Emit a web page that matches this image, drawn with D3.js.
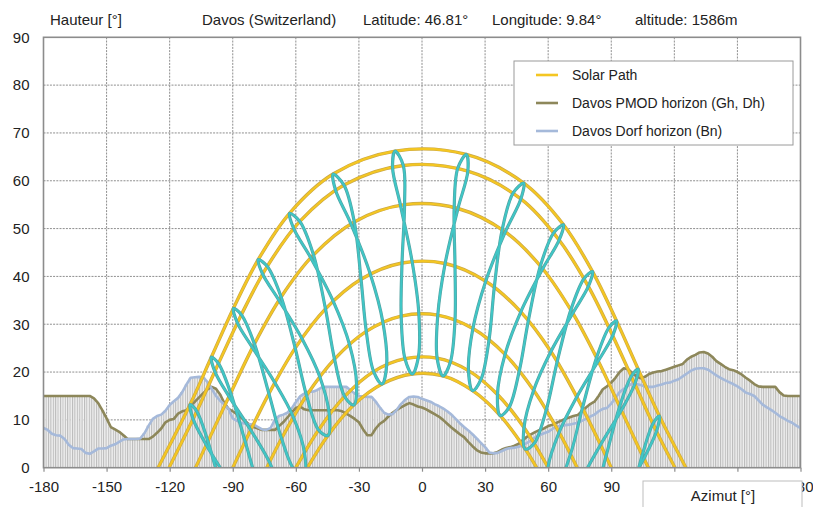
<!DOCTYPE html>
<html>
<head>
<meta charset="utf-8">
<script src="https://cdn.jsdelivr.net/npm/d3@7"></script>
<style>
  body { margin: 0; background: #fff; }
  svg text { font-family: "Liberation Sans", Arial, sans-serif; fill: #222; }
</style>
</head>
<body>
<svg id="chart" width="813" height="507"></svg>
<script>
// ---- Axis ticks -------------------------------------------------------------
const azimuthTicks = [-180, -150, -120, -90, -60, -30, 0, 30, 60, 90, 120, 150, 180];
// labels sitting under the "Azimut" title box are left blank
const azimuthLabels = ["-180", "-150", "-120", "-90", "-60", "-30", "0", "30", "60", "90", "", "", "180"];
const heightTicks = [0, 10, 20, 30, 40, 50, 60, 70, 80, 90];

// ---- Sun position on the 21st of each month: [azimuth °, height °] -----------
// azimuth 0 = south, negative = east; one point per hour 06:00 ... 19:00 (CET)
const hourLabels = ["06:00","07:00","08:00","09:00","10:00","11:00","12:00",
                    "13:00","14:00","15:00","16:00","17:00","18:00","19:00"];
const jan21 = [[-81.5,-19.8],[-71.2,-9.8],[-60.6,-0.5],[-49.2,7.9],[-36.8,14.9],[-23.0,20.1],[-8.1,22.8],
               [7.2,22.9],[22.1,20.3],[35.9,15.3],[48.5,8.4],[59.9,0.1],[70.5,-9.2],[80.9,-19.2]];
const feb21 = [[-88.6,-13.8],[-77.8,-3.7],[-66.8,6.1],[-54.9,15.1],[-41.6,22.7],[-26.5,28.5],[-9.9,31.7],
               [7.5,31.9],[24.2,29.1],[39.5,23.7],[53.1,16.2],[65.2,7.4],[76.3,-2.2],[87.0,-12.4]];
const mar21 = [[-95.1,-4.8],[-84.1,5.5],[-72.8,15.5],[-60.3,25.0],[-45.9,33.2],[-29.0,39.4],[-9.5,42.8],
               [11.0,42.7],[30.3,39.0],[47.0,32.6],[61.3,24.3],[73.6,14.8],[84.9,4.8],[95.9,-5.5]];
const apr21 = [[-101.8,5.5],[-91.0,15.6],[-79.7,25.9],[-67.0,35.7],[-51.6,44.5],[-32.2,51.4],[-8.3,55.0],
               [17.1,54.2],[39.6,49.3],[57.4,41.6],[71.7,32.3],[83.8,22.3],[94.8,12.0],[105.5,1.9]];
const may21 = [[-107.1,11.8],[-96.8,21.8],[-85.9,32.0],[-73.6,42.1],[-58.1,51.5],[-37.1,59.1],[-8.9,63.2],
               [21.8,62.0],[47.0,56.2],[65.2,47.6],[79.1,37.9],[90.7,27.6],[101.2,17.5],[111.5,7.6]];
const jun21 = [[-110.3,13.2],[-100.2,23.1],[-89.7,33.3],[-77.9,43.5],[-63.0,53.2],[-42.3,61.4],[-12.8,66.2],
               [21.1,65.5],[48.4,59.5],[67.3,50.8],[81.1,41.0],[92.5,30.7],[102.8,20.6],[112.9,10.8]];
const jul21 = [[-108.8,10.1],[-98.5,20.1],[-87.8,30.3],[-75.8,40.5],[-61.0,50.0],[-41.1,58.0],[-14.0,62.8],
               [17.0,62.6],[43.3,57.4],[62.6,49.1],[77.0,39.5],[88.9,29.3],[99.5,19.1],[109.8,9.2]];
const aug21 = [[-102.5,4.7],[-91.8,14.9],[-80.6,25.1],[-68.0,35.0],[-52.9,43.9],[-33.8,51.0],[-10.2,54.8],
               [15.3,54.4],[38.1,49.7],[56.3,42.2],[70.8,33.0],[83.0,23.0],[94.0,12.8],[104.8,2.7]];
const sep21 = [[-92.5,-2.4],[-81.5,7.9],[-70.0,17.8],[-57.1,27.0],[-42.2,34.8],[-24.6,40.5],[-4.7,43.1],
               [15.7,42.1],[34.4,37.8],[50.6,30.8],[64.3,22.2],[76.3,12.5],[87.5,2.4],[98.5,-7.9]];
const oct21 = [[-83.4,-8.9],[-72.5,1.1],[-61.2,10.6],[-48.6,19.0],[-34.5,25.8],[-18.6,30.4],[-1.5,32.2],
               [15.7,30.9],[31.9,26.8],[46.3,20.3],[59.1,12.1],[70.6,2.8],[81.5,-7.1],[92.3,-17.3]];
const nov21 = [[-77.2,-15.5],[-66.8,-5.8],[-55.9,3.2],[-44.1,11.1],[-31.1,17.4],[-16.8,21.5],[-1.7,23.2],
               [13.5,22.1],[28.1,18.5],[41.4,12.6],[53.4,5.1],[64.4,-3.7],[74.9,-13.3],[85.2,-23.4]];
const dec21 = [[-76.6,-20.0],[-66.6,-10.3],[-56.1,-1.3],[-44.8,6.7],[-32.5,13.1],[-19.0,17.5],[-4.6,19.6],
               [10.0,19.2],[24.1,16.1],[37.2,10.9],[49.1,3.9],[60.0,-4.5],[70.3,-13.8],[80.4,-23.7]];
const monthDays = [jan21, feb21, mar21, apr21, may21, jun21, jul21, aug21, sep21, oct21, nov21, dec21];

// Daily solar paths (one per declination) and their sunset azimuths
const pathDays = [jun21, may21, apr21, mar21, feb21, jan21, dec21];
const pathSetAzimuth = [125.5, 120.3, 107.7, 90.0, 73.8, 60.0, 54.5];

// ---- Horizon profiles (height ° every 2° of azimuth) --------------------------
const horizonAzimuths = [
  -180,-178,-176,-174,-172,-170,-168,-166,-164,-162,-160,-158,-156,-154,-152,-150,-148,-146,-144,-142,
  -140,-138,-136,-134,-132,-130,-128,-126,-124,-122,-120,-118,-116,-114,-112,-110,-108,-106,-104,-102,
  -100,-98,-96,-94,-92,-90,-88,-86,-84,-82,-80,-78,-76,-74,-72,-70,-68,-66,-64,-62,
  -60,-58,-56,-54,-52,-50,-48,-46,-44,-42,-40,-38,-36,-34,-32,-30,-28,-26,-24,-22,
  -20,-18,-16,-14,-12,-10,-8,-6,-4,-2,0,2,4,6,8,10,12,14,16,18,
  20,22,24,26,28,30,32,34,36,38,40,42,44,46,48,50,52,54,56,58,
  60,62,64,66,68,70,72,74,76,78,80,82,84,86,88,90,92,94,96,98,
  100,102,104,106,108,110,112,114,116,118,120,122,124,126,128,130,132,134,136,138,
  140,142,144,146,148,150,152,154,156,158,160,162,164,166,168,170,172,174,176,178,180];
const pmodHorizon = [
  15,15,15,15,15,15,15,15,15,15,
  15,15,14.5,13.5,12,10.3,8.5,8,7.5,6.8,
  6,6,6,6,6,6,6.5,7.3,8.2,9.5,
  10,10.2,11.3,11.8,12,13,13.8,14.7,15.6,16.4,
  16.9,16.5,15.3,13.5,12.3,11.8,11.2,10.5,9.7,9,
  8.5,8.2,7.9,7.9,7.9,7.9,8.7,9.5,10.5,11.5,
  12.5,12.8,12.2,12,12,12,12,12,12,12,
  12,11.8,11.3,10.8,10.2,9.5,8,6.8,6.8,8.2,
  9.2,9.8,10.7,11.5,12.1,12.6,13.1,13.5,13.2,12.8,
  12.6,12.2,11.7,11.2,10.7,10,9.2,8.4,7.7,7,
  6.4,5.4,4.5,3.7,3.2,3,3,3,3.3,3.8,
  4.1,4.3,4.6,5,5.8,6.5,7,7.5,7.9,8.2,
  8.7,9,9.4,9.8,10.2,10.5,10.8,11,11.8,12.6,
  13.3,13.8,15,16.4,17,17.8,18.8,20,20.8,20.6,
  19.8,19.1,18.7,19,19.6,19.9,20.1,20.2,20.5,20.8,
  21.1,21.4,21.7,22.6,23.2,23.6,24.1,24.2,23.9,23.2,
  22.3,21.7,21.1,20.6,20.4,20,19.5,18.8,18.2,17.5,
  17,16.9,16.9,16.9,16.9,15.8,15.1,15,15,15,
  15];
const dorfHorizon = [
  8.3,7.9,7.1,6.8,6.7,6,4.8,4.1,4,3.9,
  3.1,2.9,3.4,4,4,4.1,4.6,4.9,5.4,5.9,
  6,6,6,6.1,7.2,8.8,10.2,10.8,11.1,11.9,
  13.1,13.9,14.6,15.8,17.4,18.8,18.9,19,18.9,17.9,
  16.5,15,14,13.2,12.3,10.3,9.8,9.4,9.2,9.1,
  9,8.5,8,7.9,8.3,10,10.8,11.1,11.5,12.4,
  13.7,14.9,15.5,15.9,15.9,16.2,16.7,16.9,16.9,16.9,
  16.9,16.9,16.9,16.2,15.5,15,14.9,14.8,14.8,13.8,
  12.6,11.5,11.1,11.2,12.1,13.3,14.2,14.8,14.9,14.8,
  14.4,14.1,13.8,13.3,12.9,12.4,11.8,11.1,10.2,9.3,
  8.5,7.8,7,6.1,5.2,4.3,3.2,3,3.1,3.5,
  3.9,4.1,4.2,4.4,4.7,5.2,5.8,6.4,6.8,7.2,
  7.5,8.1,8.6,8.7,8.9,9,9.2,9.4,9.8,10.2,
  10.7,11.1,11.8,12.3,12.5,13.4,14.6,15.8,16.5,17.1,
  17.6,17.5,17.3,17,16.9,16.9,17.2,17.4,17.7,17.8,
  18.2,18.5,19.1,19.7,20.3,20.7,20.8,20.8,20.5,19.9,
  19.3,18.8,18.3,17.9,17.5,17,16.4,15.7,15.4,15,
  14.1,13.2,12.6,12.1,11.5,10.8,10.3,9.8,9.4,8.8,
  8.3];

const legendLabels = ["Solar Path", "Davos PMOD horizon (Gh, Dh)", "Davos Dorf horizon (Bn)"];
const headerTexts = ["Davos (Switzerland)", "Latitude: 46.81°", "Longitude: 9.84°", "altitude: 1586m"];

// ---- Colours -----------------------------------------------------------------
const solarColor = "#f4c622", solarEdge = "#c9a84a";
const analemmaColor = "#40c6c6", analemmaEdge = "#55a2a2";
const pmodColor = "#8d875a", dorfColor = "#a5b9da";

// ---- Layout ------------------------------------------------------------------
const svg = d3.select("#chart");
const plot = { left: 43.5, right: 800.5, top: 37.3, bottom: 467.7 };
const x = d3.scaleLinear().domain([-180, 180]).range([plot.left, plot.right]);
const y = d3.scaleLinear().domain([0, 90]).range([plot.bottom, plot.top]);

const defs = svg.append("defs");
defs.append("clipPath").attr("id", "plotClip")
  .append("rect")
  .attr("x", plot.left).attr("y", plot.top)
  .attr("width", plot.right - plot.left).attr("height", plot.bottom - plot.top);

// vertical hatching used to fill the horizon bars
const hatch = defs.append("pattern").attr("id", "hatch")
  .attr("patternUnits", "userSpaceOnUse").attr("width", 2.4).attr("height", 8);
hatch.append("rect").attr("width", 2.4).attr("height", 8).attr("fill", "#efefef");
hatch.append("rect").attr("width", 1).attr("height", 8).attr("fill", "#b8b8b8");

// ---- Grid --------------------------------------------------------------------
const grid = svg.append("g").attr("stroke", "#8e8e8e").attr("stroke-width", 1)
  .attr("stroke-dasharray", "2,1.2");
grid.selectAll("line.v").data(azimuthTicks.slice(1, -1)).join("line").attr("class", "v")
  .attr("x1", d => x(d)).attr("x2", d => x(d))
  .attr("y1", plot.top).attr("y2", plot.bottom);
grid.selectAll("line.h").data(heightTicks.slice(1, -1)).join("line").attr("class", "h")
  .attr("x1", plot.left).attr("x2", plot.right)
  .attr("y1", d => y(d)).attr("y2", d => y(d));

const inner = svg.append("g").attr("clip-path", "url(#plotClip)");

// ---- Horizon bars (hatched) ----------------------------------------------------
[pmodHorizon, dorfHorizon].forEach(series => {
  inner.append("g").selectAll("rect")
    .data(series.map((v, i) => [horizonAzimuths[i], v]))
    .join("rect")
    .attr("x", d => x(d[0] - 1))
    .attr("width", d => x(d[0] + 1) - x(d[0] - 1))
    .attr("y", d => y(d[1]))
    .attr("height", d => y(0) - y(d[1]))
    .attr("fill", "url(#hatch)");
});

// ---- Horizon lines -----------------------------------------------------------------
const horizonLine = d3.line().x(d => x(d[0])).y(d => y(d[1]));
inner.append("path")
  .attr("d", horizonLine(pmodHorizon.map((v, i) => [horizonAzimuths[i], v])))
  .attr("fill", "none").attr("stroke", pmodColor).attr("stroke-width", 2.6)
  .attr("stroke-linejoin", "round");
inner.append("path")
  .attr("d", horizonLine(dorfHorizon.map((v, i) => [horizonAzimuths[i], v])))
  .attr("fill", "none").attr("stroke", dorfColor).attr("stroke-width", 2.6)
  .attr("stroke-linejoin", "round");

// ---- Daily solar paths -----------------------------------------------------------
const pathLine = d3.line().x(d => x(d[0])).y(d => y(d[1])).curve(d3.curveCatmullRom.alpha(0.5));
const pathsG = inner.append("g").attr("fill", "none");
pathDays.forEach((day, k) => {
  const pts = [[-pathSetAzimuth[k], 0], ...day.filter(p => p[1] > 0.5), [pathSetAzimuth[k], 0]];
  pathsG.append("path").attr("d", pathLine(pts))
    .attr("stroke", solarEdge).attr("stroke-width", 3.4);
  pathsG.append("path").attr("d", pathLine(pts))
    .attr("stroke", solarColor).attr("stroke-width", 2.1);
});

// ---- Analemmas (same hour through the year) ---------------------------------------
const loopLine = d3.line().x(d => x(d[0])).y(d => y(d[1])).curve(d3.curveCatmullRomClosed.alpha(0.5));
const loopsG = inner.append("g").attr("fill", "none");
hourLabels.forEach((h, i) => {
  const pts = monthDays.map(m => m[i]);
  loopsG.append("path").attr("d", loopLine(pts))
    .attr("stroke", analemmaEdge).attr("stroke-width", 3.2);
  loopsG.append("path").attr("d", loopLine(pts))
    .attr("stroke", analemmaColor).attr("stroke-width", 2);
});

// ---- Frame and axes --------------------------------------------------------------
svg.append("rect")
  .attr("x", plot.left).attr("y", plot.top)
  .attr("width", plot.right - plot.left).attr("height", plot.bottom - plot.top)
  .attr("fill", "none").attr("stroke", "#8c8c8c").attr("stroke-width", 1.6);

const xAxis = svg.append("g").attr("transform", `translate(0,${plot.bottom})`)
  .call(d3.axisBottom(x).tickValues(azimuthTicks).tickSize(4).tickSizeOuter(0)
    .tickPadding(9.5).tickFormat((d, i) => azimuthLabels[i]));
xAxis.select(".domain").remove();
xAxis.selectAll(".tick line").attr("stroke", "#8c8c8c").attr("stroke-width", 1.2);
xAxis.selectAll(".tick text").attr("font-size", 15).attr("fill", "#222")
  .attr("font-family", "Liberation Sans, Arial, sans-serif");

const yAxis = svg.append("g").attr("transform", `translate(${plot.left},0)`)
  .call(d3.axisLeft(y).tickValues(heightTicks).tickSize(0).tickPadding(14)
    .tickFormat(d => String(d)));
yAxis.select(".domain").remove();
yAxis.selectAll(".tick text").attr("font-size", 15).attr("fill", "#222")
  .attr("font-family", "Liberation Sans, Arial, sans-serif");

// ---- Header texts ---------------------------------------------------------------------
svg.append("text").attr("x", 50).attr("y", 25).attr("font-size", 15).text("Hauteur [°]");
const headerX = [202, 363, 492, 635];
headerTexts.forEach((t, i) => {
  svg.append("text").attr("x", headerX[i]).attr("y", 25).attr("font-size", 15).text(t);
});

// ---- Legend -----------------------------------------------------------------------------
const legend = svg.append("g").attr("transform", "translate(514,61)");
legend.append("rect").attr("width", 279).attr("height", 84)
  .attr("fill", "#fff").attr("stroke", "#9a9a9a").attr("stroke-width", 1);
const legendColors = [solarColor, pmodColor, dorfColor];
legendLabels.forEach((label, i) => {
  const yy = 14 + i * 28;
  legend.append("line").attr("x1", 22).attr("x2", 44).attr("y1", yy).attr("y2", yy)
    .attr("stroke", legendColors[i]).attr("stroke-width", 2.6);
  legend.append("text").attr("x", 58).attr("y", yy + 5).attr("font-size", 14).text(label);
});

// ---- Azimuth title box ----------------------------------------------------------------
const azBox = svg.append("g").attr("transform", "translate(643,481)");
azBox.append("rect").attr("width", 159).attr("height", 32)
  .attr("fill", "#fff").attr("stroke", "#bdbdbd").attr("stroke-width", 1);
azBox.append("text").attr("x", 80).attr("y", 20).attr("text-anchor", "middle")
  .attr("font-size", 15).text("Azimut [°]");
</script>
</body>
</html>
